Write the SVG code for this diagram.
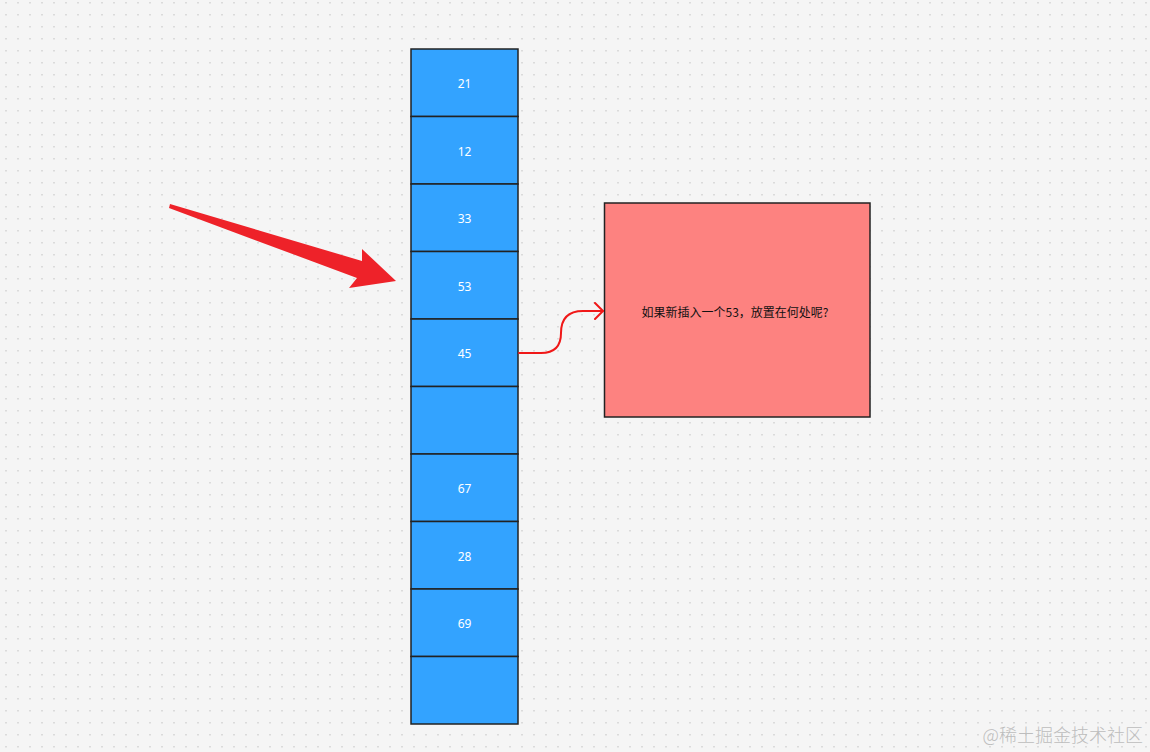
<svg xmlns="http://www.w3.org/2000/svg" width="1150" height="752" viewBox="0 0 1150 752">
<style>
.cell{fill:#33a3ff;stroke:#222;stroke-width:1.5}
.num{font-family:"Noto Sans","Liberation Sans",sans-serif;font-size:12px;fill:#ffffff;text-anchor:middle;dominant-baseline:central}
.note{fill:#fd8280;stroke:#222;stroke-width:1.5}
.notetxt{font-family:"Noto Sans CJK SC","Noto Sans",sans-serif;font-size:12px;fill:#111;text-anchor:middle;dominant-baseline:central}
.conn{fill:none;stroke:#f01818;stroke-width:2;stroke-linecap:round;stroke-linejoin:round}
</style>
<defs>
<pattern id="dots" patternUnits="userSpaceOnUse" x="0" y="0" width="12" height="12">
<rect x="5.25" y="2" width="1.5" height="1.5" fill="#d2d2d2"/>
</pattern>
<marker id="chev" viewBox="0 0 12 18" refX="10" refY="9" markerWidth="12" markerHeight="18" markerUnits="userSpaceOnUse" orient="auto">
<path d="M2,1 L10,9 L2,17" fill="none" stroke="#f01818" stroke-width="2" stroke-linecap="round" stroke-linejoin="round"/>
</marker>
</defs>
<rect width="1150" height="752" fill="#f5f5f5"/>
<rect width="1150" height="752" fill="url(#dots)"/>

<g id="pointer-arrow">
<polygon points="170,204 362,261 362,249 396,281 349,288 357,278 169,208" fill="#ee2229"/>
</g>

<g id="cell-1"><rect class="cell" x="411" y="49" width="107" height="67.5"/><text class="num" x="464.5" y="83">21</text></g>
<g id="cell-2"><rect class="cell" x="411" y="116.5" width="107" height="67.5"/><text class="num" x="464.5" y="151">12</text></g>
<g id="cell-3"><rect class="cell" x="411" y="184" width="107" height="67.5"/><text class="num" x="464.5" y="218">33</text></g>
<g id="cell-4"><rect class="cell" x="411" y="251.5" width="107" height="67.5"/><text class="num" x="464.5" y="286">53</text></g>
<g id="cell-5"><rect class="cell" x="411" y="319" width="107" height="67.5"/><text class="num" x="464.5" y="353">45</text></g>
<g id="cell-6"><rect class="cell" x="411" y="386.5" width="107" height="67.5"/></g>
<g id="cell-7"><rect class="cell" x="411" y="454" width="107" height="67.5"/><text class="num" x="464.5" y="488">67</text></g>
<g id="cell-8"><rect class="cell" x="411" y="521.5" width="107" height="67.5"/><text class="num" x="464.5" y="556">28</text></g>
<g id="cell-9"><rect class="cell" x="411" y="589" width="107" height="67.5"/><text class="num" x="464.5" y="623">69</text></g>
<g id="cell-10"><rect class="cell" x="411" y="656.5" width="107" height="67.5"/></g>

<g id="note">
<rect class="note" x="604.5" y="203" width="265.5" height="214"/>
<text class="notetxt" x="735" y="311">如果新插入一个53，放置在何处呢?</text>
</g>

<g id="connectors">
<path class="conn" d="M519,353 H541 Q561,353 561,333 Q561,311 583,311 H603" marker-end="url(#chev)"/>
</g>

<text x="1143" y="742" text-anchor="end" font-family="Noto Sans CJK SC,Noto Sans,sans-serif" font-size="18" font-weight="300" fill="#bdbdbd">@稀土掘金技术社区</text>
</svg>
